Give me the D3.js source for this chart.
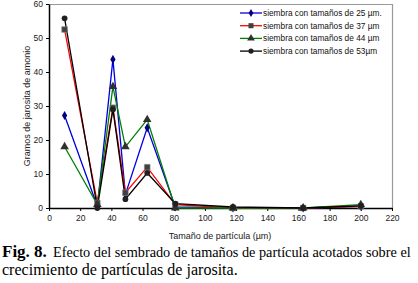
<!DOCTYPE html>
<html><head><meta charset="utf-8">
<script src="https://cdn.jsdelivr.net/npm/d3@7"></script>
<style>body{margin:0;background:#fff}svg{display:block}</style>
</head><body>
<svg id="c" width="418" height="283"></svg>
<script>
const sizes = [10, 31, 41, 49, 63, 81, 118, 163, 200];
const s25 = [27.2, 0.5, 43.7, 4.0, 23.6, 0.3, 0, 0, 0.5];
const s37 = [52.5, 1.5, 29.5, 4.5, 12.0, 1.0, 0, 0, 0.5];
const s44 = [18.0, 1.0, 35.7, 18.0, 26.0, 0, 0, 0, 1.0];
const s53 = [55.8, 0, 29.0, 2.6, 10.3, 1.3, 0.3, 0, 0.6];
const seriesNames = ["siembra con tamaños de 25 µm.", "siembra con tamaños de 37 µm", "siembra con tamaños de 44 µm", "siembra con tamaños de 53µm"];
const xTicks = [0,20,40,60,80,100,120,140,160,180,200,220];
const yTicks = [0,10,20,30,40,50,60];

const series = [
  {name: seriesNames[0], vals: s25, color: "#0000e0", marker: "diamond", mfill: "#000080"},
  {name: seriesNames[1], vals: s37, color: "#ff0000", marker: "square", mfill: "#404040"},
  {name: seriesNames[2], vals: s44, color: "#008000", marker: "triangle", mfill: "#303030"},
  {name: seriesNames[3], vals: s53, color: "#000000", marker: "circle", mfill: "#202020"}
];

const svg = d3.select("#c");
const L = 49, R = 392, T = 4, B = 208;
const x = d3.scaleLinear().domain([0,220]).range([L, R]);
const y = d3.scaleLinear().domain([0,60]).range([B, T]);

// frame
svg.append("line").attr("x1",L).attr("x2",R).attr("y1",T+0.5).attr("y2",T+0.5).attr("stroke","#999").attr("stroke-width",1.2);
svg.append("line").attr("x1",R+0.5).attr("x2",R+0.5).attr("y1",T).attr("y2",B).attr("stroke","#999").attr("stroke-width",1.2);

const fontAx = "Arial, 'Liberation Sans', sans-serif";
const xa = svg.append("g").attr("transform",`translate(0,${B})`)
  .call(d3.axisBottom(x).tickValues(xTicks).tickSize(3).tickSizeOuter(0).tickPadding(4));
const ya = svg.append("g").attr("transform",`translate(${L},0)`)
  .call(d3.axisLeft(y).tickValues(yTicks).tickSize(3).tickSizeOuter(0).tickPadding(3));
[xa, ya].forEach(g => {
  g.select(".domain").attr("stroke","#000").attr("stroke-width",1.5);
  g.selectAll(".tick line").attr("stroke","#000").attr("stroke-width",1);
  g.selectAll("text").attr("font-family",fontAx).attr("font-size",8.5).attr("fill","#222");
});

const symMap = {diamond: d3.symbolDiamond, square: d3.symbolSquare, triangle: d3.symbolTriangle, circle: d3.symbolCircle};
const sizeMap = {diamond: 24, square: 32, triangle: 32, circle: 26};
const line = d3.line().x(d => x(d[0])).y(d => y(d[1]));

series.forEach(s => {
  const pts = sizes.map((v,i) => [v, s.vals[i]]);
  svg.append("path").datum(pts).attr("d", line).attr("fill","none").attr("stroke", s.color).attr("stroke-width",1.3);
});
series.forEach(s => {
  const pts = sizes.map((v,i) => [v, s.vals[i]]);
  svg.append("g").selectAll("path").data(pts).join("path")
    .attr("transform", d => `translate(${x(d[0])},${y(d[1])})`)
    .attr("d", d3.symbol().type(symMap[s.marker]).size(sizeMap[s.marker]))
    .attr("fill", s.mfill).attr("stroke", s.marker==="square" ? "#888" : "none").attr("stroke-width",0.6);
});

// legend
const lg = svg.append("g");
series.forEach((s,i) => {
  const yy = 13 + i*12.7;
  lg.append("line").attr("x1",240).attr("x2",262).attr("y1",yy).attr("y2",yy).attr("stroke",s.color).attr("stroke-width",1.3);
  lg.append("path").attr("transform",`translate(251,${yy})`)
    .attr("d", d3.symbol().type(symMap[s.marker]).size(sizeMap[s.marker]*0.8)).attr("fill", s.mfill);
  lg.append("text").attr("x",263).attr("y",yy+3).text(s.name)
    .attr("font-family",fontAx).attr("font-size",8.3).attr("fill","#111");
});

// axis titles
svg.append("text").attr("transform","translate(30,106) rotate(-90)").attr("text-anchor","middle")
  .attr("font-family",fontAx).attr("font-size",9).attr("fill","#222").text("Gramos de jarosita de amonio");
svg.append("text").attr("x",220).attr("y",239).attr("text-anchor","middle")
  .attr("font-family",fontAx).attr("font-size",9).attr("fill","#222").text("Tamaño de partícula (µm)");

// caption (font size fitted to the target width, no glyph stretching)
const fontCap = "'Liberation Serif', 'Times New Roman', serif";
function fitText(xp, yp, str, width, bold) {
  const t = svg.append("text").attr("x",xp).attr("y",yp).attr("font-family",fontCap)
    .attr("font-size",16).attr("font-weight", bold ? "bold" : "normal").attr("fill","#000").text(str);
  const w = t.node().getComputedTextLength();
  t.attr("font-size", Math.min(17, 16*width/w));
  return t;
}
fitText(2, 257, "Fig. 8.", 46, true);
fitText(53, 257, "Efecto del sembrado de tamaños de partícula acotados sobre el", 358, false);
fitText(2, 275, "crecimiento de partículas de jarosita.", 236, false);
</script>
</body></html>
